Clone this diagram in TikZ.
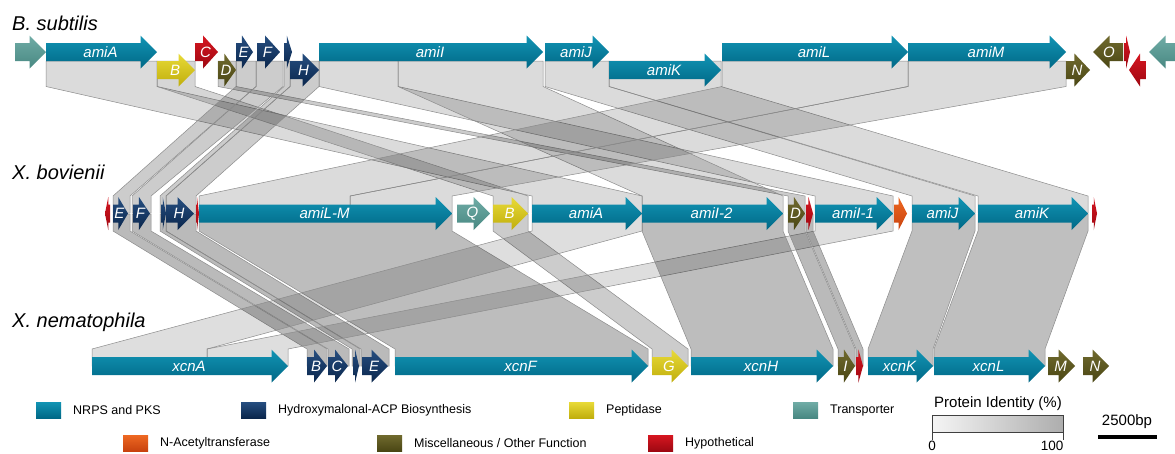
\documentclass[tikz,border=0pt]{standalone}
\usepackage{fontspec}
\setmainfont{Liberation Sans}
\definecolor{nrpsT}{RGB}{18,148,180}
\definecolor{nrpsB}{RGB}{0,104,134}
\definecolor{hmalT}{RGB}{38,78,128}
\definecolor{hmalB}{RGB}{10,38,76}
\definecolor{peptT}{RGB}{232,218,56}
\definecolor{peptB}{RGB}{192,174,12}
\definecolor{tranT}{RGB}{112,172,166}
\definecolor{tranB}{RGB}{72,136,130}
\definecolor{nactT}{RGB}{238,104,34}
\definecolor{nactB}{RGB}{200,66,14}
\definecolor{miscT}{RGB}{112,106,46}
\definecolor{miscB}{RGB}{74,70,20}
\definecolor{hypT}{RGB}{214,22,32}
\definecolor{hypB}{RGB}{158,8,18}
\tikzset{
 band/.style={fill=black, draw=black!45, line width=0.5pt},
 glab/.style={text=white, font=\fontsize{15}{15}\selectfont\itshape, inner sep=0pt},
 spec/.style={font=\fontsize{20}{20}\selectfont\itshape, anchor=base west, inner sep=0pt},
 leg/.style={font=\fontsize{12.5}{12.5}\selectfont, anchor=west, inner sep=0pt},
 big/.style={font=\fontsize{15}{15}\selectfont, inner sep=0pt},
 num/.style={font=\fontsize{13.5}{13.5}\selectfont, inner sep=0pt, anchor=north},
}
% forward gene: name, x1, x2, yc, colour, label
\newcommand\gf[6]{%
 \pgfmathsetmacro\ghl{min(16.5,0.65*(#3-#2))}%
 \pgfmathsetmacro\ghb{#3-\ghl}%
 \path[top color=#5T, bottom color=#5B] (#2,#4-9) -- (\ghb,#4-9) -- (\ghb,#4-16.5) -- (#3,#4) -- (\ghb,#4+16.5) -- (\ghb,#4+9) -- (#2,#4+9) -- cycle;
 \node[glab] (#1) at ({(#2+#3)/2-1},#4) {#6};}
% reverse gene: name, x1 (tip), x2, yc, colour, label
\newcommand\gr[6]{%
 \pgfmathsetmacro\ghl{min(16.5,0.65*(#3-#2))}%
 \pgfmathsetmacro\ghb{#2+\ghl}%
 \path[top color=#5T, bottom color=#5B] (#3,#4-9) -- (\ghb,#4-9) -- (\ghb,#4-16.5) -- (#2,#4) -- (\ghb,#4+16.5) -- (\ghb,#4+9) -- (#3,#4+9) -- cycle;
 \node[glab] (#1) at ({(#2+#3)/2+1},#4) {#6};}
% band row 1 -> row 2
\newcommand\bab[5]{\path[band, fill opacity=#5] (#1,61) -- (#1,86.5) -- (#3,196) -- (#3,213) -- (#4,213) -- (#4,196) -- (#2,86.5) -- (#2,61) -- cycle;}
% band row 2 -> row 3
\newcommand\bbc[5]{\path[band, fill opacity=#5] (#1,214) -- (#1,231) -- (#3,349) -- (#3,366) -- (#4,366) -- (#4,349) -- (#2,231) -- (#2,214) -- cycle;}
% legend entry: name, x, y, colour, text
\newcommand\legent[5]{%
 \path[top color=#4T, bottom color=#4B] (#2,#3-8) rectangle (#2+25,#3+8);
 \node[leg] (#1) at (#2+37,#3) {#5};}
\begin{document}
\begin{tikzpicture}[x=1pt,y=-1pt]
\fill[white] (0,0) rectangle (1175,453);
\clip (0,0) rectangle (1175,453);
% ---- bands row 1 -> row 2
\bab{46}{157}{532}{642}{0.14}
\bab{157}{195}{493}{528}{0.16}
\bab{218}{236}{788}{805}{0.2}
\bab{236}{256}{113}{130}{0.2}
\bab{256}{283}{132}{151}{0.2}
\bab{284}{290}{160}{166}{0.2}
\bab{290}{319}{166}{196}{0.2}
\bab{319}{398}{815}{893}{0.14}
\bab{398}{543}{642}{783}{0.14}
\bab{545}{609}{912}{975}{0.14}
\bab{609}{721}{978}{1088}{0.14}
\bab{722}{908}{199}{350}{0.14}
\bab{908}{1066}{350}{452}{0.14}
% ---- bands row 2 -> row 3
\bbc{113}{130}{307}{327}{0.27}
\bbc{132}{151}{328}{349}{0.27}
\bbc{160}{166}{352}{360}{0.27}
\bbc{166}{196}{361}{389}{0.27}
\bbc{199}{452}{395}{648}{0.26}
\bbc{493}{528}{652}{688}{0.2}
\bbc{532}{642}{92}{207}{0.13}
\bbc{815}{893}{207}{288}{0.13}
\bbc{642}{783}{691}{833}{0.26}
\bbc{788}{805}{838}{855}{0.27}
\bbc{806}{813}{856}{863}{0.27}
\bbc{912}{975}{868}{933}{0.25}
\bbc{978}{1088}{934}{1045}{0.25}
% ---- species
\node[spec] (sp1) at (12,30.5) {B. subtilis};
\node[spec] (sp2) at (12,179) {X. bovienii};
\node[spec] (sp3) at (12,327) {X. nematophila};
% ---- row 1: B. subtilis
\gf{bTr}{15}{46}{52}{tran}{}
\gf{bA}{46}{157}{52}{nrps}{amiA}
\gf{bB}{157}{195}{70}{pept}{B}
\gf{bC}{195}{218}{52}{hyp}{C}
\gf{bD}{218}{236}{70}{misc}{D}
\gf{bE}{236}{253}{52}{hmal}{E}
\gf{bF}{257}{280}{52}{hmal}{F}
\gf{bG}{284}{292}{52}{hmal}{}
\gf{bH}{290}{319}{70}{hmal}{H}
\gf{bI}{319}{543}{52}{nrps}{amiI}
\gf{bJ}{545}{609}{52}{nrps}{amiJ}
\gf{bK}{609}{721}{70}{nrps}{amiK}
\gf{bL}{722}{908}{52}{nrps}{amiL}
\gf{bM}{908}{1066}{52}{nrps}{amiM}
\gf{bN}{1066}{1090}{70}{misc}{N}
\gr{bO}{1093}{1123}{52}{misc}{O}
\gf{bP}{1124}{1130}{52}{hyp}{}
\gr{bQ}{1129}{1146}{70}{hyp}{}
\gr{bR}{1149}{1200}{52}{tran}{}
% ---- row 2: X. bovienii
\gr{xR1}{105}{110}{213.5}{hyp}{}
\gf{xE}{113}{128}{213.5}{hmal}{E}
\gf{xF}{133}{150}{213.5}{hmal}{F}
\gf{xG}{161}{166}{213.5}{hmal}{}
\gf{xH}{166}{194}{213.5}{hmal}{H}
\gf{xR2}{196}{199}{213.5}{hyp}{}
\gf{xLM}{199}{452}{213.5}{nrps}{amiL-M}
\gf{xQ}{457}{490}{213.5}{tran}{Q}
\gf{xB}{493}{528}{213.5}{pept}{B}
\gf{xA}{532}{642}{213.5}{nrps}{amiA}
\gf{xI2}{642}{783}{213.5}{nrps}{amiI-2}
\gf{xD}{788}{805}{213.5}{misc}{D}
\gf{xR3}{806}{813}{213.5}{hyp}{}
\gf{xI1}{815}{893}{213.5}{nrps}{amiI-1}
\gf{xNa}{894}{907}{213.5}{nact}{}
\gf{xJ}{912}{975}{213.5}{nrps}{amiJ}
\gf{xK}{978}{1088}{213.5}{nrps}{amiK}
\gf{xR4}{1092}{1097}{213.5}{hyp}{}
% ---- row 3: X. nematophila
\gf{nA}{92}{288}{366}{nrps}{xcnA}
\gf{nB}{307}{327}{366}{hmal}{B}
\gf{nC}{328}{348}{366}{hmal}{C}
\gf{nD}{353}{359}{366}{hmal}{}
\gf{nE}{362}{388}{366}{hmal}{E}
\gf{nF}{395}{648}{366}{nrps}{xcnF}
\gf{nG}{652}{688}{366}{pept}{G}
\gf{nH}{691}{833}{366}{nrps}{xcnH}
\gf{nI}{838}{855}{366}{misc}{I}
\gf{nR}{856}{863}{366}{hyp}{}
\gf{nK}{868}{933}{366}{nrps}{xcnK}
\gf{nL}{934}{1045}{366}{nrps}{xcnL}
\gf{nM}{1048}{1075}{366}{misc}{M}
\gf{nN}{1083}{1109}{366}{misc}{N}
% ---- legend
\legent{l1}{36}{410}{nrps}{NRPS and PKS}
\legent{l2}{241}{410}{hmal}{Hydroxymalonal-ACP Biosynthesis}
\legent{l3}{569}{410}{pept}{Peptidase}
\legent{l4}{793}{410}{tran}{Transporter}
\legent{l5}{123}{443}{nact}{N-Acetyltransferase}
\legent{l6}{377}{443}{misc}{Miscellaneous / Other Function}
\legent{l7}{648}{443}{hyp}{Hypothetical}
% ---- identity scale
\node[big] (pid) at (998,404) {Protein Identity (\%)};
\shade[left color=black!4, right color=black!32] (932,415) rectangle (1063,432);
\draw[black!75, line width=0.7pt] (932,415) rectangle (1063,432);
\coordinate (t0) at (932,440);
\coordinate (t1) at (1063,440);
\draw[black!75, line width=0.7pt] (932,432) -- (t0) (1063,432) -- (t1);
\node[num] (p0) at (932,440.5) {0};
\node[num] (p100) at (1052,440.5) {100};
% ---- length scale
\node[big] (bp) at (1127,422) {2500bp};
\draw[line width=4pt] (1098,437) -- (1157,437);
\end{tikzpicture}
\end{document}
